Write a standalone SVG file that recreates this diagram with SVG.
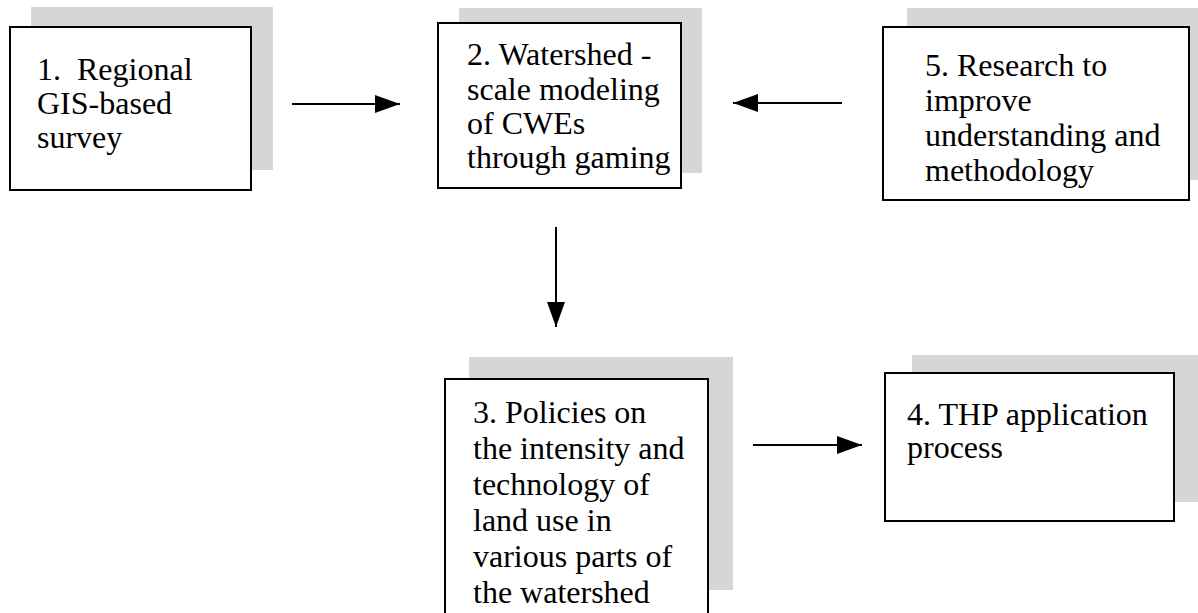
<svg xmlns="http://www.w3.org/2000/svg" width="1198" height="613" viewBox="0 0 1198 613">
<style>
.sh{fill:#d6d6d6;stroke:none}
.bx{fill:#fff;stroke:#000;stroke-width:2}
.t{font-family:"Liberation Serif","Times New Roman",serif;font-size:32px;fill:#000}
.c{stroke:#000;stroke-width:2;fill:none}
</style>
<defs>
<marker id="ah" viewBox="0 0 25 18" refX="25" refY="9" markerWidth="25" markerHeight="18" markerUnits="userSpaceOnUse" orient="auto">
<path d="M0,0 L25,9 L0,18 Z" fill="#000"/>
</marker>
</defs>
<rect width="1198" height="613" fill="#fff"/>
<g id="node1">
<rect class="sh" x="31" y="7" width="242" height="163"/>
<rect class="bx" x="10" y="27" width="241" height="163"/>
<text class="t" x="37" y="80" xml:space="preserve">1.  Regional</text>
<text class="t" x="37" y="114">GIS-based</text>
<text class="t" x="37" y="148">survey</text>
</g>
<g id="node2">
<rect class="sh" x="459" y="8" width="243" height="165"/>
<rect class="bx" x="438" y="23" width="243" height="165"/>
<text class="t" x="467" y="65">2. Watershed -</text>
<text class="t" x="467" y="100">scale modeling</text>
<text class="t" x="467" y="134">of CWEs</text>
<text class="t" x="467" y="168">through gaming</text>
</g>
<g id="node5">
<rect class="sh" x="907" y="8" width="291" height="172"/>
<rect class="bx" x="883" y="27" width="306" height="173"/>
<text class="t" x="925" y="76">5. Research to</text>
<text class="t" x="925" y="111">improve</text>
<text class="t" x="925" y="146">understanding and</text>
<text class="t" x="925" y="181">methodology</text>
</g>
<g id="node3">
<rect class="sh" x="469" y="357" width="264" height="233"/>
<rect class="bx" x="445" y="379" width="263" height="250"/>
<text class="t" x="473" y="423">3. Policies on</text>
<text class="t" x="473" y="459">the intensity and</text>
<text class="t" x="473" y="495">technology of</text>
<text class="t" x="473" y="531">land use in</text>
<text class="t" x="473" y="567">various parts of</text>
<text class="t" x="473" y="603">the watershed</text>
</g>
<g id="node4">
<rect class="sh" x="912" y="355" width="286" height="147"/>
<rect class="bx" x="885" y="373" width="289" height="148"/>
<text class="t" x="907" y="425">4. THP application</text>
<text class="t" x="907" y="458">process</text>
</g>
<g id="connectors">
<line class="c" x1="292" y1="104" x2="400" y2="104" marker-end="url(#ah)"/>
<line class="c" x1="842" y1="103" x2="733" y2="103" marker-end="url(#ah)"/>
<line class="c" x1="556" y1="227" x2="556" y2="327" marker-end="url(#ah)"/>
<line class="c" x1="753" y1="445" x2="862" y2="445" marker-end="url(#ah)"/>
</g>
</svg>
